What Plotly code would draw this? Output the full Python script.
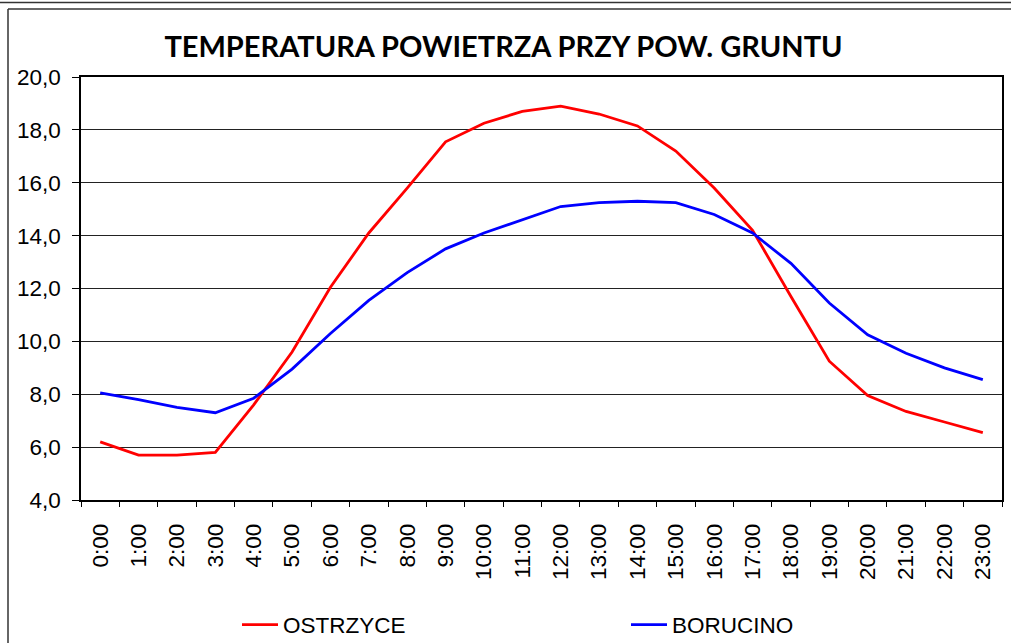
import plotly.graph_objects as go

hours = [f"{h}:00" for h in range(24)]
ostrzyce = [6.2, 5.7, 5.7, 5.8, 7.6, 9.6, 12.05, 14.1, 15.8, 17.55, 18.25, 18.7, 18.9, 18.6,
            18.15, 17.2, 15.8, 14.2, 11.7, 9.25, 7.95, 7.35, 6.95, 6.55]
borucino = [8.05, 7.8, 7.5, 7.3, 7.85, 8.95, 10.3, 11.55, 12.6, 13.5, 14.1, 14.6, 15.1, 15.25,
            15.3, 15.25, 14.8, 14.1, 12.95, 11.45, 10.25, 9.55, 9.0, 8.55]
y_ticks = [4, 6, 8, 10, 12, 14, 16, 18, 20]
y_labels = ["4,0", "6,0", "8,0", "10,0", "12,0", "14,0", "16,0", "18,0", "20,0"]

W, H = 1011, 643
L, R, T, B = 81, 1002, 77, 500
pw, ph = R - L, B - T

def px(x):
    return (x - L) / pw

def py(y):
    return (B - y) / ph

FONT = "Liberation Sans, Arial, sans-serif"
FS = 22.5

fig = go.Figure()
fig.add_trace(go.Scatter(x=hours, y=ostrzyce, mode="lines", name="OSTRZYCE",
                         line=dict(color="#FF0000", width=2.8), legend="legend"))
fig.add_trace(go.Scatter(x=hours, y=borucino, mode="lines", name="BORUCINO",
                         line=dict(color="#0000FF", width=2.8), legend="legend2"))

leg_common = dict(orientation="h", xanchor="left", yanchor="middle", y=py(625),
                  font=dict(family=FONT, size=FS, color="black"), itemwidth=36,
                  bgcolor="rgba(0,0,0,0)", borderwidth=0)

fig.update_layout(
    width=W, height=H,
    margin=dict(l=L, r=W - R, t=T, b=H - B, pad=0, autoexpand=False),
    paper_bgcolor="white", plot_bgcolor="white",
    title=dict(text="<b>TEMPERATURA POWIETRZA PRZY POW. GRUNTU</b>",
               font=dict(family="Lato, Carlito, Calibri, sans-serif", size=29, color="black"),
               xref="paper", x=px(503.5), xanchor="center",
               yref="container", y=1 - 47 / H, yanchor="middle"),
    font=dict(family=FONT, size=FS, color="black"),
    showlegend=True,
    legend=dict(**leg_common, x=px(237)),
    legend2=dict(**leg_common, x=px(626)),
)

fig.update_xaxes(type="category", range=[-0.5, 23.5], tickangle=-90, tickson="boundaries",
                 ticks="outside", ticklen=5, tickcolor="black", tickwidth=1,
                 ticklabelstandoff=13,
                 showline=True, linecolor="black", linewidth=1.5, mirror=True,
                 showgrid=False, zeroline=False, automargin=False,
                 tickfont=dict(family=FONT, size=FS, color="black"))
fig.update_yaxes(range=[4, 20], tickvals=y_ticks, ticktext=y_labels,
                 ticks="outside", ticklen=7, tickcolor="black", tickwidth=1,
                 ticklabelstandoff=7,
                 showline=True, linecolor="black", linewidth=1.5, mirror=True,
                 showgrid=True, gridcolor="#222222", gridwidth=1, zeroline=False,
                 automargin=False,
                 tickfont=dict(family=FONT, size=FS, color="black"))

# outer chart frame lines (cropped chart border)
frame = dict(type="line", xref="paper", yref="paper", line=dict(color="#333333", width=1.5), layer="above")
fig.add_shape(**frame, x0=px(0), x1=px(W), y0=py(2.5), y1=py(2.5))
fig.add_shape(**frame, x0=px(8), x1=px(W), y0=py(9), y1=py(9))
fig.add_shape(**frame, x0=px(8), x1=px(8), y0=py(9), y1=py(H))

fig.write_html("out.html", config={"displayModeBar": False},
               post_script="document.body.style.margin='0';document.body.style.overflow='hidden';")
